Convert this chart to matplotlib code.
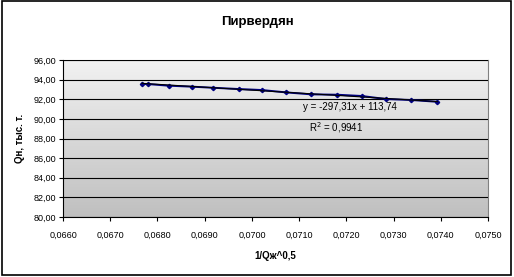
import numpy as np
import matplotlib
matplotlib.use("Agg")
import matplotlib.pyplot as plt
from matplotlib.ticker import FuncFormatter, MultipleLocator

x_vals = [0.06767, 0.06779, 0.06824, 0.06874, 0.06918, 0.06973, 0.07021,
          0.07072, 0.07125, 0.07181, 0.07233, 0.07284, 0.07338, 0.07393]
y_vals = [93.55, 93.55, 93.38, 93.28, 93.17, 93.04, 92.94,
          92.70, 92.50, 92.46, 92.33, 92.02, 91.92, 91.74]
slope = -297.31
intercept = 113.74
r2 = 0.9941
title = "Пирвердян"
xlabel = "1/Qж^0,5"
ylabel = "Qн, тыс. т."

plt.rcParams['font.family'] = ['Liberation Sans', 'DejaVu Sans']
fig = plt.figure(figsize=(5.14, 2.77), dpi=100)
fig.patch.set_facecolor('white')
ax = fig.add_axes([0.1226, 0.2166, 0.8268, 0.5668])

# gradient background
grad = np.linspace(0, 1, 256).reshape(-1, 1)
top = np.array([0.95, 0.95, 0.95])
bot = np.array([0.75, 0.75, 0.75])
img = top[None, None, :] * (1 - grad[:, :, None]) + bot[None, None, :] * grad[:, :, None]
ax.imshow(img, extent=[0, 1, 0, 1], transform=ax.transAxes, aspect='auto', zorder=0)

ax.set_xlim(0.066, 0.075)
ax.set_ylim(80, 96)
ax.xaxis.set_major_locator(MultipleLocator(0.001))
ax.yaxis.set_major_locator(MultipleLocator(2))
ax.xaxis.set_major_formatter(FuncFormatter(lambda v, p: f"{v:.4f}".replace('.', ',')))
ax.yaxis.set_major_formatter(FuncFormatter(lambda v, p: f"{v:.2f}".replace('.', ',')))
ax.grid(axis='y', color='black', linewidth=0.8, zorder=1)
ax.set_axisbelow(False)

ax.plot(x_vals, y_vals, color='#000080', linewidth=1.4, marker='D', markersize=2.2, zorder=3)
xt = np.array([min(x_vals), max(x_vals)])
ax.plot(xt, slope * xt + intercept, color='black', linewidth=0.8, zorder=4)

ax.text(0.07208, 91.25, f"y = {slope:.2f}x + {intercept:.2f}".replace('.', ','),
        fontsize=7, ha='center', va='center', zorder=5)
ax.text(0.07178, 89.1, f"R$^2$ = {r2:.4f}".replace('.', ','),
        fontsize=7, ha='center', va='center', zorder=5)

for s in ['top', 'right']:
    ax.spines[s].set_color('#808080')
for s in ['left', 'bottom']:
    ax.spines[s].set_color('black')
    ax.spines[s].set_linewidth(0.8)
ax.tick_params(axis='both', direction='out', length=3, width=0.8, labelsize=6.5, pad=2)
ax.tick_params(axis='x', pad=7)

ax.set_xlabel(xlabel, fontsize=7, fontweight='bold', labelpad=8)
ax.set_ylabel(ylabel, fontsize=7, fontweight='bold', labelpad=6)
fig.text(0.5, 0.92, title, fontsize=9.5, fontweight='bold', ha='center', va='center')

# outer border
fig.add_artist(plt.Rectangle((0.004, 0.006), 0.99, 0.99, transform=fig.transFigure,
                             fill=False, edgecolor='black', linewidth=1.2))

fig.savefig("out.png", dpi=100)
